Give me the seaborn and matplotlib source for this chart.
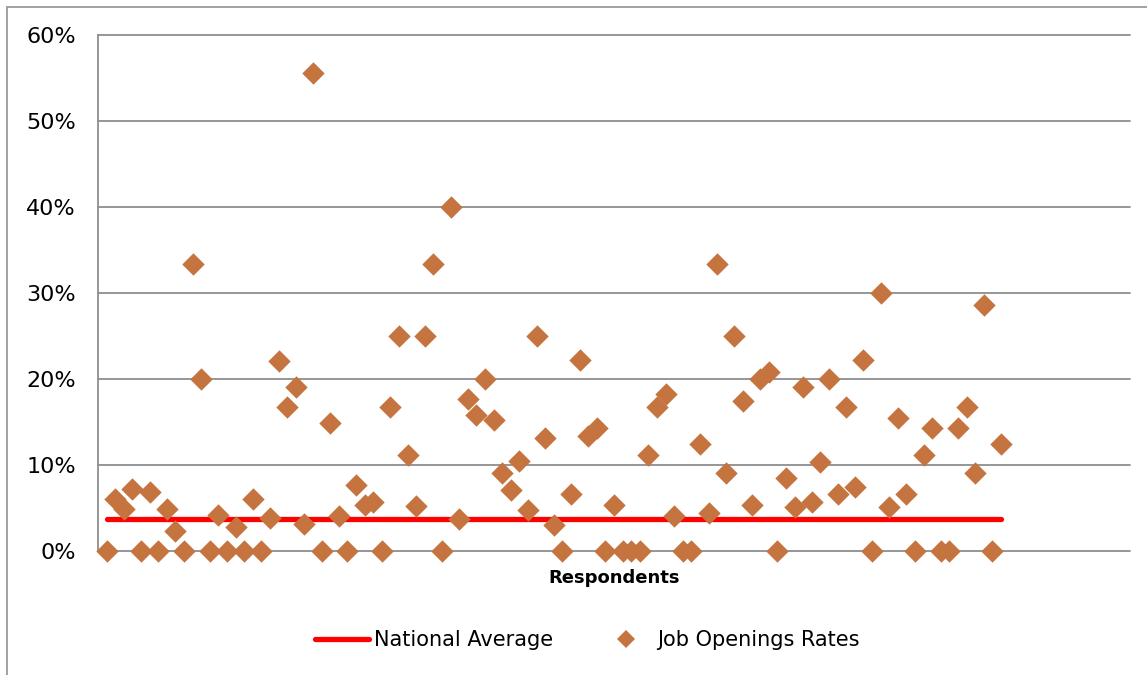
import matplotlib
matplotlib.use("Agg")
import matplotlib.pyplot as plt
import seaborn as sns
import pandas as pd
import numpy as np
from matplotlib.patches import Rectangle
from matplotlib.lines import Line2D
from matplotlib.ticker import FuncFormatter

# ---- data ----
rates = [0, 6.0, 4.9, 7.2, 0, 6.9, 0, 4.9, 2.3, 0,
         33.4, 20.0, 0, 4.2, 0, 2.8, 0, 6.0, 0, 3.8,
         22.1, 16.7, 19.1, 3.1, 55.6, 0, 14.9, 4.1, 0, 7.7,
         5.4, 5.7, 0, 16.7, 25.0, 11.2, 5.2, 25.0, 33.4, 0,
         40.0, 3.7, 17.7, 15.8, 20.0, 15.2, 9.1, 7.1, 10.5, 4.8,
         25.0, 13.1, 3.0, 0, 6.6, 22.2, 13.4, 14.3, 0, 5.3,
         0, 0, 0, 11.2, 16.7, 18.2, 4.1, 0, 0, 12.5,
         4.4, 33.4, 9.1, 25.0, 17.5, 5.3, 20.0, 20.8, 0, 8.5,
         5.1, 19.1, 5.7, 10.3, 20.0, 6.6, 16.7, 7.5, 22.2, 0,
         30.0, 5.1, 15.5, 6.6, 0, 11.2, 14.3, 0, 0, 14.3,
         16.7, 9.1, 28.6, 0, 12.5]
respondents = list(range(1, len(rates) + 1))
national_average = 3.7
yticks = [0, 10, 20, 30, 40, 50, 60]
series_names = ["National Average", "Job Openings Rates"]
x_title = "Respondents"

df = pd.DataFrame({"Respondent": respondents, "Rate": rates})
avg_df = pd.DataFrame({"Respondent": [respondents[0], respondents[-1]],
                       "Rate": [national_average, national_average]})

sns.set_theme(style="white")
plt.rcParams["font.family"] = ["DejaVu Sans"]

W, H = 1147, 675
fig = plt.figure(figsize=(W / 100, H / 100), dpi=100)
ax = fig.add_axes([98 / W, 1 - 551 / H, (1130 - 98) / W, (551 - 35) / H])

line_color = "#FF0000"
pt_color = "#C5743F"
grid_color = "#8E8E8E"

sns.lineplot(data=avg_df, x="Respondent", y="Rate", ax=ax, color=line_color,
             linewidth=3.8, solid_capstyle="round", zorder=3, legend=False)
sns.scatterplot(data=df, x="Respondent", y="Rate", ax=ax, marker="D", s=130,
                color=pt_color, linewidth=0, zorder=4, legend=False,
                clip_on=False)

ax.set_xlim(0, 120)
ax.set_ylim(0, 60)
ax.set_yticks(yticks)
ax.yaxis.set_major_formatter(FuncFormatter(lambda v, p: f"{v:.0f}%"))
ax.set_xticks([])
ax.set_xlabel("")
ax.set_ylabel("")
ax.tick_params(axis="y", length=0, pad=16, labelsize=16, labelcolor="black")
for y in yticks:
    ax.axhline(y, color=grid_color, linewidth=1.3, zorder=1, clip_on=False)
for s in ["top", "right", "bottom"]:
    ax.spines[s].set_visible(False)
ax.spines["left"].set_color(grid_color)
ax.spines["left"].set_linewidth(1.3)
ax.spines["left"].set_zorder(1)

fig.text((98 + 1130) / 2 / W, 1 - 578 / H, x_title, ha="center", va="center",
         fontsize=13, fontweight="bold", color="black")

# chart border
fig.patches.append(Rectangle((7.5 / W, -0.05), 1.2, (H - 6.5) / H + 0.05,
                             transform=fig.transFigure, fill=False,
                             edgecolor="#9A9A9A", linewidth=1.3))

handles = [Line2D([0], [0], color=line_color, linewidth=3.8, solid_capstyle="round"),
           Line2D([0], [0], color=pt_color, marker="D", linestyle="none",
                  markersize=9, markeredgewidth=0)]
fig.legend(handles, series_names, loc="center", bbox_to_anchor=(0.512, 1 - 640 / H),
           ncol=2, frameon=False, fontsize=15, handlelength=2.6,
           handletextpad=0.2, columnspacing=2.2, borderpad=0, labelcolor="black")

fig.savefig("out.png", dpi=100)
